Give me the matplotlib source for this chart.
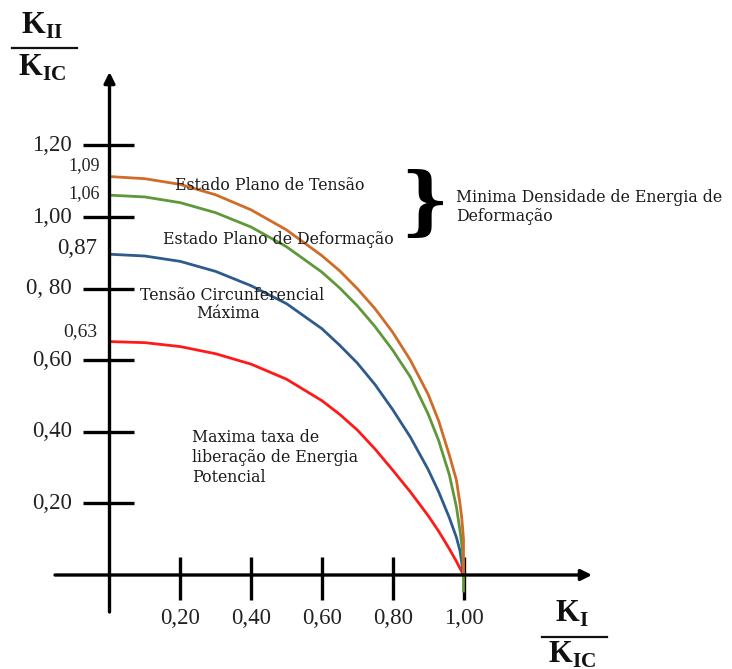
import matplotlib
matplotlib.use("Agg")
import matplotlib.pyplot as plt
from matplotlib.lines import Line2D

plt.rcParams['mathtext.fontset'] = 'custom'
plt.rcParams['mathtext.rm'] = 'Liberation Serif'
plt.rcParams['mathtext.bf'] = 'Liberation Serif:bold'

# ---------------- data ----------------
ki_orange = [0.0, 0.1, 0.2, 0.3, 0.4, 0.5, 0.6, 0.65, 0.7, 0.75, 0.8, 0.85, 0.9, 0.93, 0.96, 0.98, 0.99,
             0.995, 1.0, 1.0]
kii_orange = [1.113, 1.107, 1.091, 1.062, 1.020, 0.964, 0.892, 0.850, 0.800, 0.744, 0.678, 0.600, 0.505,
              0.430, 0.335, 0.265, 0.200, 0.160, 0.100, 0.0]

ki_green = [0.0, 0.1, 0.2, 0.3, 0.4, 0.5, 0.6, 0.65, 0.7, 0.75, 0.8, 0.85, 0.9, 0.93, 0.96, 0.98, 0.99,
            0.997, 1.0, 1.0]
kii_green = [1.061, 1.056, 1.040, 1.012, 0.972, 0.917, 0.846, 0.802, 0.752, 0.694, 0.628, 0.553, 0.450,
             0.375, 0.280, 0.190, 0.125, 0.070, 0.0, -0.045]

ki_blue = [0.0, 0.1, 0.2, 0.3, 0.4, 0.5, 0.6, 0.65, 0.7, 0.75, 0.8, 0.85, 0.9, 0.93, 0.96, 0.98, 0.99, 1.0]
kii_blue = [0.896, 0.891, 0.876, 0.848, 0.808, 0.758, 0.688, 0.642, 0.592, 0.532, 0.462, 0.385, 0.295,
            0.232, 0.160, 0.105, 0.068, 0.0]

ki_red = [0.0, 0.1, 0.2, 0.3, 0.4, 0.5, 0.6, 0.65, 0.7, 0.75, 0.8, 0.85, 0.9, 0.93, 0.96, 0.98, 1.0]
kii_red = [0.652, 0.649, 0.638, 0.618, 0.589, 0.547, 0.487, 0.449, 0.405, 0.352, 0.293, 0.232, 0.166,
           0.122, 0.073, 0.038, 0.0]

x_ticks = [0.20, 0.40, 0.60, 0.80, 1.00]
x_tick_labels = ["0,20", "0,40", "0,60", "0,80", "1,00"]
y_ticks = [0.20, 0.40, 0.60, 0.80, 1.00, 1.20]
y_tick_labels = ["0,20", "0,40", "0,60", "0, 80", "1,00", "1,20"]

curve_value_labels = ["1,09", "1,06", "0,87", "0,63"]

# ---------------- figure ----------------
W, H = 732, 669
fig = plt.figure(figsize=(W / 100, H / 100), dpi=100)
ax = fig.add_axes([0, 0, 1, 1])
ox, sx = 109.5, 354.0   # pixel origin / scale (x)
oy, sy = 575.0, 358.0   # pixel origin / scale (y)
ax.set_xlim((0 - ox) / sx, (W - ox) / sx)
ax.set_ylim((oy - H) / sy, (oy - 0) / sy)
ax.axis('off')


def dx(px):
    return (px - ox) / sx


def dy(py):
    return (oy - py) / sy


def ftext(px, py, s, **kw):
    fig.text(px / W, 1 - py / H, s, **kw)


# axes with arrows
axis_kw = dict(arrowstyle='-|>', lw=2.4, color='black', mutation_scale=16,
               shrinkA=0, shrinkB=0)
ax.annotate('', xy=(0, dy(72)), xytext=(0, dy(612)), arrowprops=axis_kw)
ax.annotate('', xy=(dx(592), 0), xytext=(dx(55), 0), arrowprops=axis_kw)

# ticks
for t in y_ticks:
    ax.plot([dx(83), dx(134)], [t, t], color='black', lw=2.4, solid_capstyle='butt')
for t in x_ticks:
    ax.plot([t, t], [dy(557), dy(600)], color='black', lw=2.4, solid_capstyle='butt')

tick_color = '#222222'
for t, lab in zip(y_ticks, y_tick_labels):
    ax.text(dx(72), t, lab, ha='right', va='center', fontsize=16.5,
            family='Liberation Serif', color=tick_color)
for t, lab in zip(x_ticks, x_tick_labels):
    ax.text(t, dy(618), lab, ha='center', va='center', fontsize=16.5,
            family='Liberation Serif', color=tick_color)

# curves
lw = 2.0
ax.plot(ki_red, kii_red, color='#FF1A1A', lw=lw, solid_joinstyle='round')
ax.plot(ki_blue, kii_blue, color='#2E5B8C', lw=lw, solid_joinstyle='round')
ax.plot(ki_green, kii_green, color='#5E983A', lw=lw, solid_joinstyle='round')
ax.plot(ki_orange, kii_orange, color='#CF6C28', lw=lw, solid_joinstyle='round')

# labels of curve start values
val_pos = [(100, 166, 13), (100, 194, 13), (97, 249, 16.5), (97, 332, 14)]
for lab, (px, py, fs) in zip(curve_value_labels, val_pos):
    ftext(px, py, lab, ha='right', va='center', fontsize=fs,
          family='Liberation Serif', color=tick_color)

# annotations
afs = 11.3
afam = 'DejaVu Serif'
acol = '#1a1a1a'
ftext(270, 185, "Estado Plano de Tensão", ha='center', va='center', fontsize=afs, family=afam, color=acol)
ftext(278, 240, "Estado Plano de Deformação", ha='center', va='center', fontsize=afs, family=afam, color=acol)
ftext(232, 296, "Tensão Circunferencial", ha='center', va='center', fontsize=afs, family=afam, color=acol)
ftext(228, 314, "Máxima", ha='center', va='center', fontsize=afs, family=afam, color=acol)
ftext(192, 437, "Maxima taxa de", ha='left', va='center', fontsize=afs, family=afam, color=acol)
ftext(192, 457, "liberação de Energia", ha='left', va='center', fontsize=afs, family=afam, color=acol)
ftext(192, 478, "Potencial", ha='left', va='center', fontsize=afs, family=afam, color=acol)
ftext(456, 198, "Minima Densidade de Energia de", ha='left', va='center', fontsize=afs, family=afam, color=acol)
ftext(456, 216, "Deformação", ha='left', va='center', fontsize=afs, family=afam, color=acol)
ftext(424, 206, "}", ha='center', va='center', fontsize=54, family='DejaVu Serif',
      weight='bold', color='black')

# axis fraction labels
ftext(42, 26, r'$\mathbf{K}_{\mathbf{II}}$', ha='center', va='center', fontsize=22, color='#111111')
fig.add_artist(Line2D([12 / W, 77 / W], [1 - 48 / H, 1 - 48 / H], color='#111111', lw=1.6))
ftext(42, 68, r'$\mathbf{K}_{\mathbf{IC}}$', ha='center', va='center', fontsize=22, color='#111111')

ftext(572, 614, r'$\mathbf{K}_{\mathbf{I}}$', ha='center', va='center', fontsize=22, color='#111111')
fig.add_artist(Line2D([542 / W, 607 / W], [1 - 637 / H, 1 - 637 / H], color='#111111', lw=1.6))
ftext(572, 655, r'$\mathbf{K}_{\mathbf{IC}}$', ha='center', va='center', fontsize=22, color='#111111')

fig.savefig('out.png', dpi=100)
